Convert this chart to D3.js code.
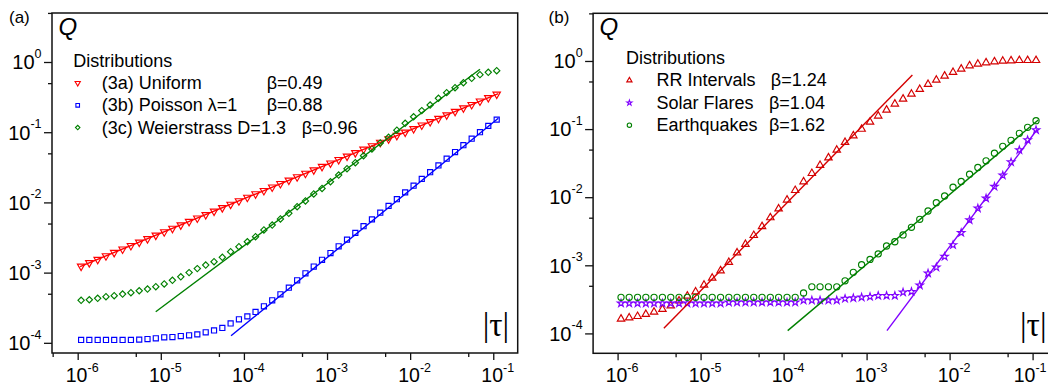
<!DOCTYPE html>
<html><head><meta charset="utf-8">
<script src="https://cdn.jsdelivr.net/npm/d3@7"></script>
<style>
body{margin:0;background:#fff}
svg{display:block}
text{font-family:"Liberation Sans",Arial,sans-serif;fill:#000}
</style>
</head><body>
<svg id="c" width="1048" height="386"></svg>
<script>
// ---------- data ----------
const tau = [1.10e-6,1.38e-6,1.74e-6,2.19e-6,2.75e-6,3.47e-6,4.37e-6,5.50e-6,6.92e-6,8.71e-6,
  1.10e-5,1.38e-5,1.74e-5,2.19e-5,2.75e-5,3.47e-5,4.37e-5,5.50e-5,6.92e-5,8.71e-5,
  1.10e-4,1.38e-4,1.74e-4,2.19e-4,2.75e-4,3.47e-4,4.37e-4,5.50e-4,6.92e-4,8.71e-4,
  1.10e-3,1.38e-3,1.74e-3,2.19e-3,2.75e-3,3.47e-3,4.37e-3,5.50e-3,6.92e-3,8.71e-3,
  1.10e-2,1.38e-2,1.74e-2,2.19e-2,2.75e-2,3.47e-2,4.37e-2,5.50e-2,6.92e-2,8.71e-2,
  1.10e-1];

// panel (a)
const qUniform = [1.23e-3,1.38e-3,1.54e-3,1.73e-3,1.93e-3,2.16e-3,2.42e-3,2.71e-3,3.03e-3,3.40e-3,
  3.80e-3,4.26e-3,4.76e-3,5.33e-3,5.97e-3,6.68e-3,7.48e-3,8.38e-3,9.38e-3,1.05e-2,
  1.18e-2,1.32e-2,1.47e-2,1.65e-2,1.85e-2,2.07e-2,2.31e-2,2.59e-2,2.90e-2,3.24e-2,
  3.63e-2,4.06e-2,4.55e-2,5.09e-2,5.70e-2,6.38e-2,7.15e-2,8.00e-2,8.95e-2,0.100,
  0.112,0.126,0.141,0.157,0.176,0.197,0.221,0.247,0.277,0.310,0.347];
const qPoisson = [1.10e-4,1.10e-4,1.10e-4,1.10e-4,1.10e-4,1.10e-4,1.10e-4,1.11e-4,1.13e-4,1.16e-4,
  1.20e-4,1.21e-4,1.25e-4,1.28e-4,1.32e-4,1.41e-4,1.50e-4,1.63e-4,1.89e-4,2.16e-4,
  2.38e-4,2.75e-4,3.31e-4,4.03e-4,4.91e-4,6.10e-4,7.76e-4,9.77e-4,1.22e-3,1.52e-3,
  1.90e-3,2.37e-3,2.95e-3,3.68e-3,4.59e-3,5.73e-3,7.14e-3,8.91e-3,1.11e-2,1.39e-2,
  1.73e-2,2.16e-2,2.69e-2,3.36e-2,4.19e-2,5.22e-2,6.52e-2,8.09e-2,0.100,0.123,0.151];
const qWeierstrass = [4.03e-4,4.11e-4,4.31e-4,4.54e-4,4.69e-4,4.95e-4,5.18e-4,5.52e-4,5.83e-4,6.30e-4,
  6.89e-4,7.76e-4,8.71e-4,1.00e-3,1.14e-3,1.28e-3,1.43e-3,1.65e-3,1.99e-3,2.34e-3,
  2.75e-3,3.25e-3,4.05e-3,4.76e-3,5.81e-3,7.00e-3,8.69e-3,1.05e-2,1.32e-2,1.58e-2,
  1.97e-2,2.45e-2,3.02e-2,3.68e-2,4.62e-2,5.77e-2,7.01e-2,8.45e-2,0.107,0.134,
  0.166,0.203,0.244,0.304,0.366,0.431,0.508,0.585,0.661,0.713,0.753];
const fitUniformTau = [1.07e-6, 0.115], fitUniformQ = [1.22e-3, 0.355];
const fitPoissonTau = [7.00e-5, 0.115], fitPoissonQ = [1.26e-4, 0.158];
const fitWeierTau = [8.69e-6, 6.92e-2], fitWeierQ = [2.77e-4, 0.787];

// panel (b)
const qRR = [1.63e-4,1.70e-4,1.78e-4,1.91e-4,2.06e-4,2.26e-4,2.55e-4,3.02e-4,3.55e-4,4.09e-4,
  5.14e-4,6.50e-4,8.34e-4,1.11e-3,1.53e-3,2.04e-3,2.75e-3,3.72e-3,5.01e-3,6.76e-3,
  9.12e-3,1.26e-2,1.69e-2,2.24e-2,2.94e-2,3.80e-2,4.93e-2,6.40e-2,8.00e-2,0.100,
  0.127,0.156,0.191,0.234,0.277,0.327,0.384,0.455,0.526,0.603,
  0.682,0.764,0.853,0.904,0.944,0.977,1.000,1.01,1.02,1.02,1.02];
const qSolar = [2.77e-4,2.77e-4,2.77e-4,2.77e-4,2.77e-4,2.77e-4,2.77e-4,2.77e-4,2.77e-4,2.77e-4,
  2.77e-4,2.77e-4,2.77e-4,2.86e-4,2.86e-4,2.86e-4,2.86e-4,2.86e-4,2.86e-4,2.86e-4,
  2.86e-4,2.86e-4,3.06e-4,3.06e-4,3.06e-4,3.06e-4,3.06e-4,3.24e-4,3.31e-4,3.39e-4,
  3.46e-4,3.58e-4,3.58e-4,3.58e-4,4.01e-4,4.10e-4,5.08e-4,7.62e-4,9.33e-4,1.34e-3,
  1.99e-3,3.01e-3,4.62e-3,6.87e-3,9.64e-3,1.43e-2,2.09e-2,3.27e-2,4.93e-2,6.92e-2,9.70e-2];
const qQuake = [3.39e-4,3.39e-4,3.39e-4,3.39e-4,3.39e-4,3.39e-4,3.39e-4,3.39e-4,3.39e-4,3.39e-4,
  3.39e-4,3.39e-4,3.39e-4,3.39e-4,3.39e-4,3.39e-4,3.39e-4,3.39e-4,3.39e-4,3.39e-4,
  3.39e-4,3.39e-4,3.92e-4,4.83e-4,4.83e-4,4.83e-4,4.83e-4,5.92e-4,7.89e-4,1.02e-3,
  1.22e-3,1.47e-3,1.92e-3,2.22e-3,2.79e-3,3.61e-3,4.73e-3,6.27e-3,8.30e-3,1.04e-2,
  1.40e-2,1.70e-2,2.18e-2,2.73e-2,3.42e-2,4.42e-2,5.58e-2,6.84e-2,8.67e-2,0.106,0.133];
const fitRRTau = [3.61e-6, 3.56e-3], fitRRQ = [1.19e-4, 0.622];
const fitSolarTau = [1.76e-3, 0.114], fitSolarQ = [1.10e-4, 9.93e-2];
const fitQuakeTau = [1.12e-4, 0.117], fitQuakeQ = [1.10e-4, 0.136];

// ticks
const xMajor = [1e-6,1e-5,1e-4,1e-3,1e-2,1e-1];
const xMajorExp = ["-6","-5","-4","-3","-2","-1"];
const xMinor = [5e-7,5e-6,5e-5,5e-4,5e-3,5e-2];
const yMajor = [1,1e-1,1e-2,1e-3,1e-4];
const yMajorExp = ["0","-1","-2","-3","-4"];
const yMinor = [5,5e-1,5e-2,5e-3,5e-4];

// legend texts
const legendA = ["(3a) Uniform","(3b) Poisson \u03bb=1","(3c) Weierstrass D=1.3"];
const betaA = ["\u03b2=0.49","\u03b2=0.88","\u03b2=0.96"];
const legendB = ["RR Intervals","Solar Flares","Earthquakes"];
const betaB = ["\u03b2=1.24","\u03b2=1.04","\u03b2=1.62"];

// ---------- drawing ----------
const W = 1048;
const svg = d3.select("#c");

const sym = {
  tdown: (s)=>({d:d3.symbol().type(d3.symbolTriangle).size(s)(), rot:180}),
  tup:   (s)=>({d:d3.symbol().type(d3.symbolTriangle).size(s)(), rot:0}),
  square:(s)=>({d:d3.symbol().type(d3.symbolSquare).size(s)(), rot:0}),
  diamond:(s)=>({d:d3.symbol().type(d3.symbolSquare).size(s)(), rot:45}),
  circle:(s)=>({d:d3.symbol().type(d3.symbolCircle).size(s)(), rot:0}),
  star:(s)=>({d:d3.symbol().type(d3.symbolStar).size(s)(), rot:0})
};

function panel(cfg){
  const x = d3.scaleLog().domain(cfg.xDom).range(cfg.xRange);
  const y = d3.scaleLog().domain(cfg.yDom).range(cfg.yRange);
  const g = svg.append("g");
  const x0 = cfg.xRange[0], x1 = cfg.xRange[1], yb = cfg.yRange[0], yt = cfg.yRange[1];

  const ax = (gen, tv, size) => gen.tickValues(tv).tickSize(size).tickSizeOuter(0).tickFormat(()=>"");
  const styleAx = s => { s.select(".domain").remove(); s.selectAll("line").attr("stroke","#111").attr("stroke-width",1.3); };
  g.append("g").attr("transform",`translate(0,${yb})`).call(ax(d3.axisBottom(x), xMajor, 7)).call(styleAx);
  g.append("g").attr("transform",`translate(0,${yb})`).call(ax(d3.axisBottom(x), xMinor.filter(v=>x(v)>=x0-0.5), 4)).call(styleAx);
  g.append("g").attr("transform",`translate(${x0},0)`).call(ax(d3.axisLeft(y), yMajor, 8)).call(styleAx);
  g.append("g").attr("transform",`translate(${x0},0)`).call(ax(d3.axisLeft(y), yMinor.filter(v=>y(v)>=yt-0.5), 4)).call(styleAx);

  g.append("rect").attr("x",x0).attr("y",yt).attr("width",x1-x0).attr("height",yb-yt)
    .attr("fill","none").attr("stroke","#111").attr("stroke-width",1.5);

  xMajor.forEach((v,i)=>{
    const t = g.append("text").attr("x",x(v)+4.5).attr("y",382).attr("text-anchor","middle").attr("font-size",19.5);
    t.append("tspan").text("10");
    t.append("tspan").attr("dy",-10).attr("font-size",12.5).text(xMajorExp[i]);
    // keep the label inside the picture
    const bb = t.node().getBBox();
    if (bb.x + bb.width > W - 1) t.attr("text-anchor","end").attr("x", W - 1.5);
  });
  yMajor.forEach((v,i)=>{
    const t = g.append("text").attr("x",x0-10.5).attr("y",y(v)+7.3).attr("text-anchor","end").attr("font-size",20);
    t.append("tspan").text("10");
    t.append("tspan").attr("dy",-11.3).attr("font-size",12.5).text(yMajorExp[i]);
  });

  cfg.series.forEach(s=>{
    const m = sym[s.marker](s.size);
    g.append("g").selectAll("path").data(s.q).join("path")
      .attr("d",m.d)
      .attr("transform",(d,i)=>`translate(${x(tau[i])},${y(d)}) rotate(${m.rot})`)
      .attr("fill","none").attr("stroke",s.color).attr("stroke-width",1.15);
  });
  cfg.series.forEach(s=>{
    g.append("line")
      .attr("x1",x(s.fitTau[0])).attr("y1",y(s.fitQ[0]))
      .attr("x2",x(s.fitTau[1])).attr("y2",y(s.fitQ[1]))
      .attr("stroke",s.color).attr("stroke-width",1.4);
  });

  g.append("text").attr("x",cfg.tagX).attr("y",23).attr("font-size",17).text(cfg.tag);
  g.append("text").attr("x",x0+6.5).attr("y",34.5).attr("font-size",24).attr("font-style","italic").text("Q");
  const tl = g.append("text").attr("x",x1-35).attr("y",336).attr("font-size",33)
    .style("font-family","'Liberation Serif','Times New Roman',serif").text("|\u03c4|");
  const tb = tl.node().getBBox();
  if (tb.x + tb.width > W - 1) tl.attr("x", W - 1.5 - tb.width);

  const L = cfg.legend;
  g.append("text").attr("x",L.x).attr("y",L.y0).attr("font-size",18).text("Distributions");
  cfg.series.forEach((s,i)=>{
    const yy = L.y0 + L.dy*(i+1);
    const m = sym[s.marker](s.size*0.5);
    g.append("path").attr("d",m.d).attr("transform",`translate(${L.mx},${yy-6}) rotate(${m.rot})`)
      .attr("fill","none").attr("stroke",s.color).attr("stroke-width",1.1);
    g.append("text").attr("x",L.tx).attr("y",yy).attr("font-size",18).text(L.names[i]);
    g.append("text").attr("x",L.bx[i]).attr("y",yy).attr("font-size",18).text(L.betas[i]);
  });
}

panel({
  xDom:[Math.pow(10,-6.309), Math.pow(10,-0.706)], xRange:[52,517.7],
  yDom:[Math.pow(10,-4.145), Math.pow(10,0.698)], yRange:[353,13],
  tag:"(a)", tagX:9,
  series:[
    {q:qUniform, marker:"tdown", size:24, color:"#ff0000", fitTau:fitUniformTau, fitQ:fitUniformQ},
    {q:qPoisson, marker:"square", size:26, color:"#0000ff", fitTau:fitPoissonTau, fitQ:fitPoissonQ},
    {q:qWeierstrass, marker:"diamond", size:20, color:"#008000", fitTau:fitWeierTau, fitQ:fitWeierQ}
  ],
  legend:{x:73.3, y0:66.7, dy:22.3, mx:77.7, tx:101.7, bx:[266.7,266.7,301.7], names:legendA, betas:betaA}
});

panel({
  xDom:[Math.pow(10,-6.295), Math.pow(10,-0.706)], xRange:[593.1,1057],
  yDom:[Math.pow(10,-4.292), Math.pow(10,0.700)], yRange:[353.3,13.3],
  tag:"(b)", tagX:548.6,
  series:[
    {q:qRR, marker:"tup", size:24, color:"#d40000", fitTau:fitRRTau, fitQ:fitRRQ},
    {q:qSolar, marker:"star", size:17, color:"#8000ff", fitTau:fitSolarTau, fitQ:fitSolarQ},
    {q:qQuake, marker:"circle", size:30, color:"#008000", fitTau:fitQuakeTau, fitQ:fitQuakeQ}
  ],
  legend:{x:626, y0:64, dy:22.4, mx:629.4, tx:656.4, bx:[770.8,769,769], names:legendB, betas:betaB}
});
</script>
</body></html>
